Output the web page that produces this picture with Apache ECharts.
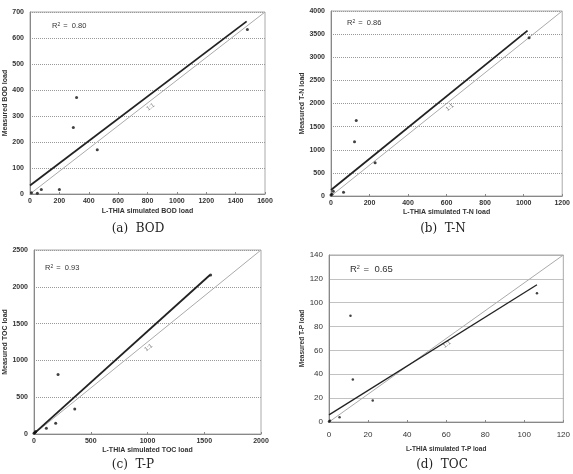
<!DOCTYPE html>
<html>
<head>
<meta charset="utf-8">
<script src="https://cdn.jsdelivr.net/npm/echarts@6/dist/echarts.min.js"></script>
<style>
html, body { margin: 0; padding: 0; background: #fff; }
#chart { width: 573px; height: 474px; }
</style>
</head>
<body>
<div id="chart"></div>
<script>
// simulated (x) and measured (y) loads
var bodSim = [10, 50, 77, 200, 295, 317, 458, 1480];
var bodMeas = [5, 3, 17, 17, 256, 371, 170, 633];
var tnSim = [0, 5, 12, 65, 122, 131, 229, 1028];
var tnMeas = [20, 40, 105, 80, 1175, 1630, 720, 3420];
var tocSim = [0, 8, 15, 109, 191, 212, 359, 1556];
var tocMeas = [10, 20, 35, 77, 145, 810, 340, 2160];
var tpSim = [0, 0.5, 5.4, 11, 12.2, 22.4, 106.5];
var tpMeas = [0.5, 1, 3.9, 89, 35.7, 18, 108];

// fitted regression lines (end points)
var bodFit = [[0, 33], [1475, 664]];
var tnFit = [[0, 130], [1020, 3575]];
var tocFit = [[0, 5], [1550, 2160]];
var tpFit = [[0, 6], [106.5, 115]];

// axis ranges [xmax, xstep, ymax, ystep]
var bodAxis = [1600, 200, 700, 100];
var tnAxis = [1200, 200, 4000, 500];
var tocAxis = [2000, 500, 2500, 500];
var tpAxis = [120, 20, 140, 20];

var r2Values = ['0.80', '0.86', '0.93', '0.65'];
var captions = ['(a)  BOD', '(b)  T-N', '(c)  T-P', '(d)  TOC'];
var xNames = ['L-THIA simulated BOD load', 'L-THIA simulated T-N load', 'L-THIA simulated TOC load', 'L-THIA simulated T-P load'];
var yNames = ['Measured BOD load', 'Measured T-N load', 'Measured TOC load', 'Measured T-P load'];
// where the "1:1" tag sits, as a fraction along the diagonal
var tagPos = [0.48, 0.48, 0.47, 0.47];

function zip(a, b) {
	var out = [];
	for (var i = 0; i < a.length; i++) out.push([a[i], b[i]]);
	return out;
}

var panels = [
	{ grid: { left: 30, top: 12, width: 235, height: 182 }, axis: bodAxis, pts: zip(bodSim, bodMeas), fit: bodFit, big: false, yGap: 20, xLabGap: 4, xNameGap: 14 },
	{ grid: { left: 331, top: 11, width: 232, height: 185 }, axis: tnAxis, pts: zip(tnSim, tnMeas), fit: tnFit, big: false, yGap: 22, xLabGap: 4, xNameGap: 13 },
	{ grid: { left: 34, top: 250, width: 227, height: 184 }, axis: tocAxis, pts: zip(tocSim, tocMeas), fit: tocFit, big: false, yGap: 24, xLabGap: 4, xNameGap: 13 },
	{ grid: { left: 329, top: 255, width: 236, height: 167 }, axis: tpAxis, pts: zip(tpSim, tpMeas), fit: tpFit, big: true, yGap: 20, xLabGap: 9, xNameGap: 24 }
];

function plain(v) { return String(v); }

var grids = [], xAxes = [], yAxes = [], series = [];
panels.forEach(function (p, i) {
	var g = p.grid;
	grids.push({ left: g.left, top: g.top, width: g.width, height: g.height, show: true, borderColor: '#aaa', borderWidth: 1, backgroundColor: '#fff' });
	var fs = p.big ? 8 : 7;
	xAxes.push({
		gridIndex: i, type: 'value', min: 0, max: p.axis[0], interval: p.axis[1],
		name: xNames[i], nameLocation: 'middle', nameGap: p.xNameGap,
		nameTextStyle: { fontFamily: 'Liberation Sans', fontSize: p.big ? 6.5 : 7, fontWeight: 'bold', color: '#333' },
		axisLine: { lineStyle: { color: '#888' } },
		axisTick: { inside: true, length: 2, lineStyle: { color: '#888' } },
		axisLabel: { margin: p.xLabGap, formatter: plain, fontFamily: 'Liberation Sans', fontSize: fs, fontWeight: p.big ? 'normal' : 'bold', color: '#333' },
		splitLine: { show: false }
	});
	yAxes.push({
		gridIndex: i, type: 'value', min: 0, max: p.axis[2], interval: p.axis[3],
		name: yNames[i], nameLocation: 'middle', nameGap: p.yGap,
		nameTextStyle: { fontFamily: 'Liberation Sans', fontSize: p.big ? 6.5 : 7, fontWeight: 'bold', color: '#333' },
		axisLine: { lineStyle: { color: '#888' } },
		axisTick: { show: false },
		axisLabel: { margin: 6, formatter: plain, fontFamily: 'Liberation Sans', fontSize: fs, fontWeight: p.big ? 'normal' : 'bold', color: '#333' },
		splitLine: { lineStyle: { color: '#999', type: p.big ? 'solid' : [1, 1], width: p.big ? 0.6 : 1 } }
	});
	var diag = [[0, 0], [p.axis[0], p.axis[2]]];
	var ang = Math.atan(g.height / g.width) * 180 / Math.PI;
	var t = tagPos[i];
	series.push({
		type: 'line', xAxisIndex: i, yAxisIndex: i, data: diag, symbol: 'none', silent: true,
		lineStyle: { color: '#aaa', width: 1 }, z: 2
	});
	series.push({
		type: 'line', xAxisIndex: i, yAxisIndex: i, data: p.fit, symbol: 'none', silent: true,
		lineStyle: { color: '#222', width: p.big ? 1.3 : 1.8 }, z: 3
	});
	series.push({
		type: 'scatter', xAxisIndex: i, yAxisIndex: i, data: [[p.axis[0] * t, p.axis[2] * t]],
		symbolSize: 0, silent: true,
		label: { show: true, formatter: '1:1', rotate: ang, position: 'inside', offset: [6, 5], fontSize: 6, fontFamily: 'Liberation Sans', color: '#555' }
	});
	series.push({
		type: 'scatter', xAxisIndex: i, yAxisIndex: i, data: p.pts,
		symbolSize: p.big ? 2.5 : 3, itemStyle: { color: '#111' }, z: 4
	});
});

var r2Pos = [[52, 27], [347, 24], [45, 269], [350, 270]];
var capPos = [[138, 229], [443, 229], [133, 465], [442, 465]];
var graphics = [];
r2Values.forEach(function (v, i) {
	var big = i === 3;
	graphics.push({
		type: 'text', left: r2Pos[i][0], top: r2Pos[i][1] - (big ? 6 : 5), z: 10,
		style: {
			text: '{a|R}{s|2}{a| =  ' + v + '}',
			rich: {
				a: { fontFamily: 'Liberation Sans', fontSize: big ? 9.5 : 7.5, fill: '#333' },
				s: { fontFamily: 'Liberation Sans', fontSize: big ? 5.5 : 5, fill: '#333', verticalAlign: 'top', padding: [0, 1, big ? 4 : 3, 0] }
			}
		}
	});
});
captions.forEach(function (c, i) {
	graphics.push({
		type: 'text', x: capPos[i][0], y: capPos[i][1], z: 10,
		style: { text: c, fontFamily: 'DejaVu Serif', fontSize: 12, fill: '#222', align: 'center', verticalAlign: 'middle' }
	});
});

var mycharts = echarts.init(document.getElementById('chart'));
mycharts.setOption({
	animation: false,
	grid: grids,
	xAxis: xAxes,
	yAxis: yAxes,
	series: series,
	graphic: graphics
});
</script>
</body>
</html>
